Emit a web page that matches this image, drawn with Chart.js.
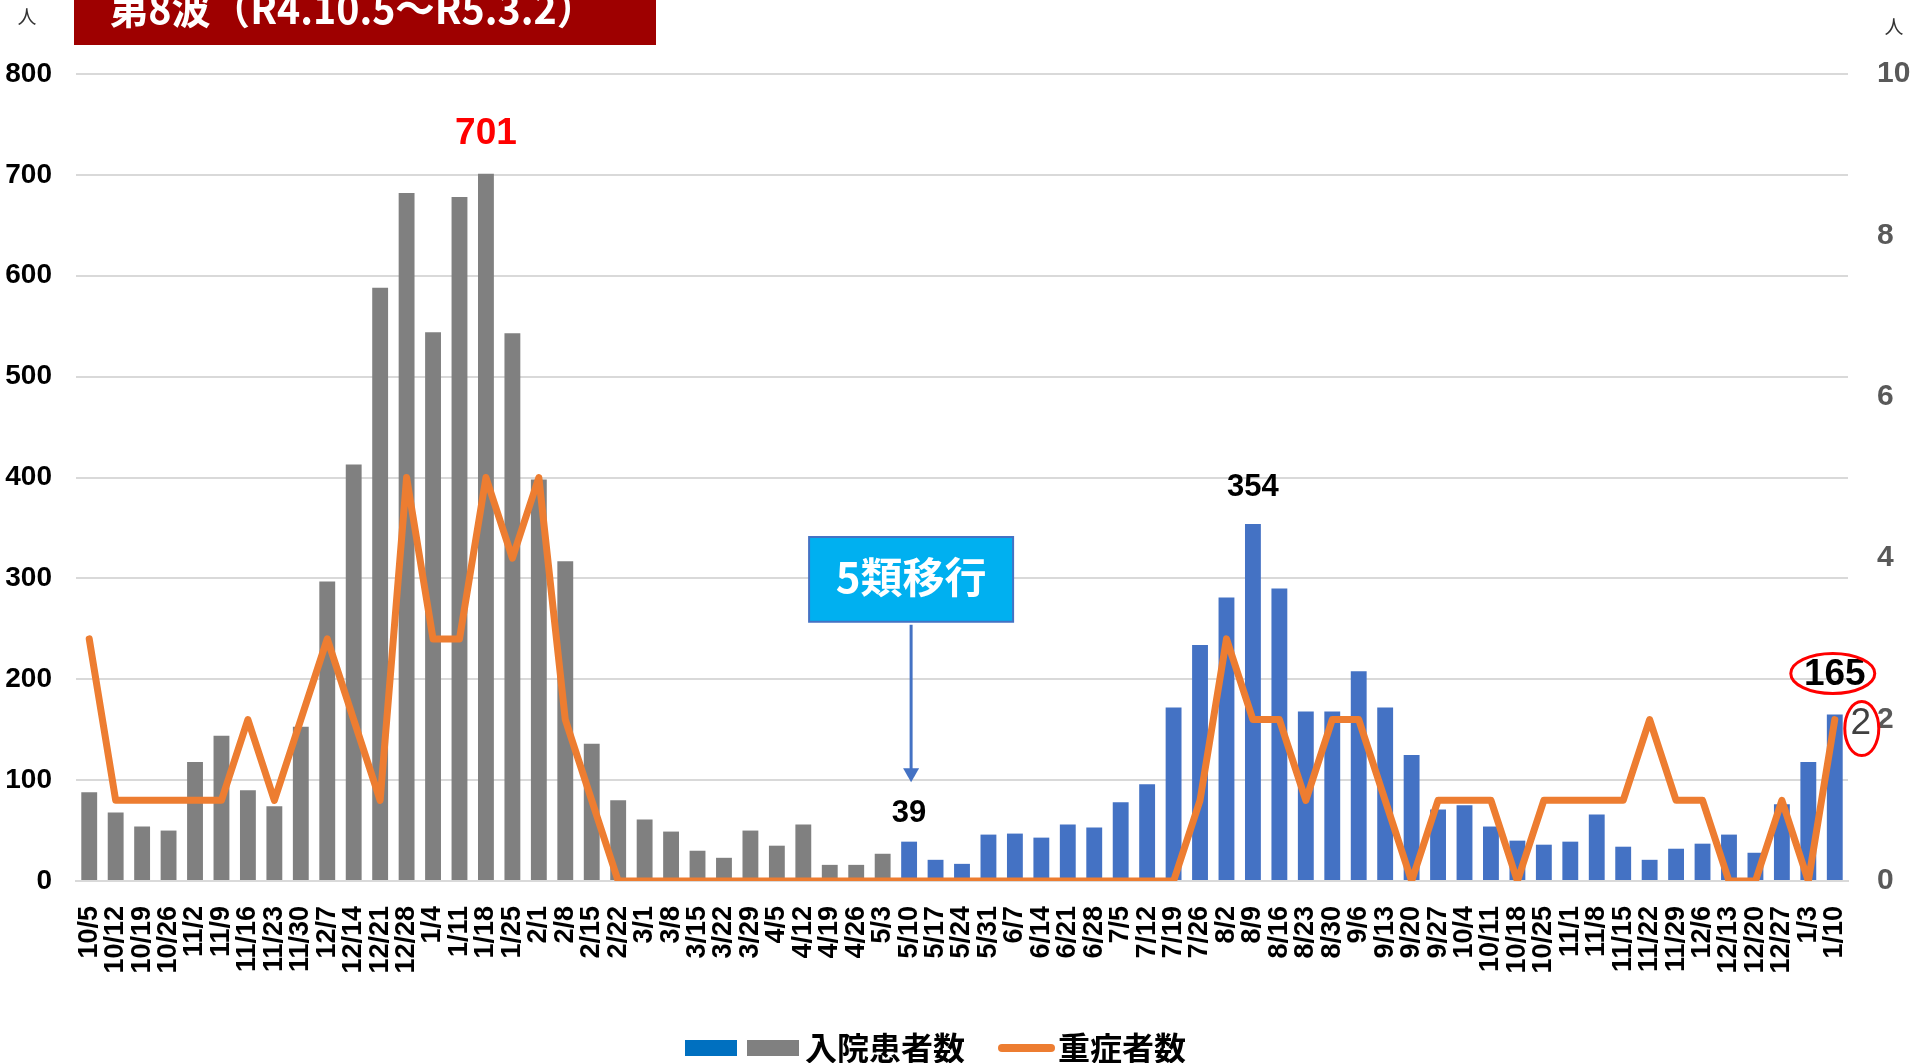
<!DOCTYPE html>
<html>
<head>
<meta charset="utf-8">
<script src="https://cdn.jsdelivr.net/npm/chart.js@4.4.1/dist/chart.umd.min.js"></script>
<style>
  html, body { margin: 0; padding: 0; background: #ffffff; }
  #wrap { position: relative; width: 1915px; height: 1063px; }
  canvas { display: block; }
</style>
</head>
<body>
<div id="wrap"><canvas id="c" width="1915" height="1063"></canvas></div>
<script>
// ---- data ----
const categories = ['10/5','10/12','10/19','10/26','11/2','11/9','11/16','11/23','11/30','12/7','12/14','12/21','12/28','1/4','1/11','1/18','1/25','2/1','2/8','2/15','2/22','3/1','3/8','3/15','3/22','3/29','4/5','4/12','4/19','4/26','5/3','5/10','5/17','5/24','5/31','6/7','6/14','6/21','6/28','7/5','7/12','7/19','7/26','8/2','8/9','8/16','8/23','8/30','9/6','9/13','9/20','9/27','10/4','10/11','10/18','10/25','11/1','11/8','11/15','11/22','11/29','12/6','12/13','12/20','12/27','1/3','1/10'];
const inpatients = [88,68,54,50,118,144,90,74,153,297,413,588,682,544,678,701,543,398,317,136,80,61,49,30,23,50,35,56,16,16,27,39,21,17,46,47,43,56,53,78,96,172,234,281,354,290,168,168,208,172,125,71,75,54,40,36,39,66,34,21,32,37,46,28,76,118,165];
const severe = [3,1,1,1,1,1,2,1,2,3,2,1,5,3,3,5,4,5,2,1,0,0,0,0,0,0,0,0,0,0,0,0,0,0,0,0,0,0,0,0,0,0,1,3,2,2,1,2,2,1,0,1,1,1,0,1,1,1,1,2,1,1,0,0,1,0,2];
const leftTicks = [0,100,200,300,400,500,600,700,800];
const rightTicks = [0,2,4,6,8,10];
const titleText = '第8波（R4.10.5～R5.3.2）';
const seriesNames = ['入院患者数','重症者数'];
const transitionLabel = '5類移行';
const transitionCategory = '5/10';
const unitLabel = '人';
const peakCategories = ['1/18','8/9','5/10','1/10'];

// ---- styles ----
const GRAY = '#808080', BLUE = '#4472C4', ORANGE = '#ED7D31';
const firstBlue = categories.indexOf(transitionCategory);
const barColors = inpatients.map((v, i) => i >= firstBlue ? BLUE : GRAY);
const LAT = '"Liberation Sans", Arial, sans-serif';
const JP = '"Noto Sans CJK JP", "Noto Sans", sans-serif';

const overlay = {
  id: 'overlay',
  afterDraw(chart) {
    const ctx = chart.ctx;
    const xs = chart.scales.x, ys = chart.scales.y, y1 = chart.scales.y1;
    ctx.save();

    // title box
    ctx.fillStyle = '#9E0000';
    ctx.fillRect(74, 0, 582, 45);
    ctx.fillStyle = '#ffffff';
    ctx.font = 'bold 42px ' + JP;
    ctx.textBaseline = 'alphabetic';
    ctx.textAlign = 'left';
    const tw = ctx.measureText(titleText).width;
    ctx.save();
    ctx.translate(109, 24);
    ctx.scale(487 / tw, 1);
    ctx.fillText(titleText, 0, 0);
    ctx.restore();

    // unit labels
    ctx.fillStyle = '#333333';
    ctx.font = '19px ' + JP;
    ctx.textAlign = 'center';
    ctx.textBaseline = 'middle';
    ctx.fillText(unitLabel, 27, 17);
    ctx.fillText(unitLabel, 1894, 27);

    // data labels
    const lbl = (cat, text, font, color, off) => {
      const i = categories.indexOf(cat);
      const x = xs.getPixelForValue(i);
      const y = ys.getPixelForValue(inpatients[i]) - off;
      ctx.font = font; ctx.fillStyle = color;
      ctx.textAlign = 'center'; ctx.textBaseline = 'middle';
      ctx.fillText(text, x, y);
      return {x, y};
    };
    const iPeak = categories.indexOf(peakCategories[0]);
    lbl(peakCategories[0], String(inpatients[iPeak]), 'bold 37px ' + LAT, '#FF0000', 40);
    const i2 = categories.indexOf(peakCategories[1]);
    lbl(peakCategories[1], String(inpatients[i2]), 'bold 31px ' + LAT, '#000000', 36);
    const i3 = categories.indexOf(peakCategories[2]);
    lbl(peakCategories[2], String(inpatients[i3]), 'bold 31px ' + LAT, '#000000', 28);
    const i4 = categories.indexOf(peakCategories[3]);
    const p = lbl(peakCategories[3], String(inpatients[i4]), 'bold 37px ' + LAT, '#000000', 40);
    ctx.strokeStyle = '#FF0000'; ctx.lineWidth = 3;
    ctx.beginPath(); ctx.ellipse(p.x - 2, p.y - 1, 42, 20, 0, 0, Math.PI * 2); ctx.stroke();

    // last severe label
    const last = severe.length - 1;
    const sx = xs.getPixelForValue(last) + 26;
    const sy = y1.getPixelForValue(severe[last]) + 4;
    ctx.font = '37px ' + LAT; ctx.fillStyle = '#404040';
    ctx.fillText(String(severe[last]), sx, sy);
    ctx.beginPath(); ctx.ellipse(sx + 1, sy + 5, 17, 27, 0, 0, Math.PI * 2); ctx.stroke();

    // transition box + arrow
    const tx = xs.getPixelForValue(firstBlue) + 2;
    const bTop = ys.getPixelForValue(341), bBot = ys.getPixelForValue(257);
    ctx.fillStyle = '#00B0F0';
    ctx.fillRect(tx - 102, bTop, 204, bBot - bTop);
    ctx.strokeStyle = '#4472C4'; ctx.lineWidth = 2;
    ctx.strokeRect(tx - 102, bTop, 204, bBot - bTop);
    ctx.fillStyle = '#ffffff';
    ctx.font = 'bold 42px ' + JP;
    ctx.fillText(transitionLabel, tx, (bTop + bBot) / 2 - 2);
    const aTop = ys.getPixelForValue(254), aTip = ys.getPixelForValue(98);
    ctx.strokeStyle = '#4472C4'; ctx.lineWidth = 3;
    ctx.beginPath(); ctx.moveTo(tx, aTop); ctx.lineTo(tx, aTip - 12); ctx.stroke();
    ctx.fillStyle = '#4472C4';
    ctx.beginPath(); ctx.moveTo(tx - 8, aTip - 14); ctx.lineTo(tx + 8, aTip - 14); ctx.lineTo(tx, aTip); ctx.closePath(); ctx.fill();

    // legend
    ctx.fillStyle = '#0070C0'; ctx.fillRect(685, 1040, 52, 16);
    ctx.fillStyle = GRAY; ctx.fillRect(747, 1040, 52, 16);
    ctx.fillStyle = '#000000';
    ctx.font = 'bold 32px ' + JP;
    ctx.textAlign = 'left'; ctx.textBaseline = 'middle';
    ctx.fillText(seriesNames[0], 805, 1048);
    ctx.strokeStyle = ORANGE; ctx.lineWidth = 8; ctx.lineCap = 'round';
    ctx.beginPath(); ctx.moveTo(1002, 1048); ctx.lineTo(1051, 1048); ctx.stroke();
    ctx.fillText(seriesNames[1], 1058, 1048);

    ctx.restore();
  }
};

new Chart(document.getElementById('c'), {
  data: {
    labels: categories,
    datasets: [
      { type: 'line', label: seriesNames[1], data: severe, yAxisID: 'y1', borderColor: ORANGE, backgroundColor: ORANGE,
        borderWidth: 7, pointRadius: 0, tension: 0, borderJoinStyle: 'round', borderCapStyle: 'round', order: 0 },
      { type: 'bar', label: seriesNames[0], data: inpatients, yAxisID: 'y', backgroundColor: barColors,
        barPercentage: 0.6, categoryPercentage: 1.0, order: 1 }
    ]
  },
  options: {
    responsive: false,
    animation: false,
    devicePixelRatio: 1,
    layout: { padding: { top: 74, left: 0, right: 0, bottom: 0 } },
    plugins: { legend: { display: false }, tooltip: { enabled: false } },
    scales: {
      x: {
        grid: { display: false },
        border: { display: true, color: '#D9D9D9', width: 2 },
        ticks: { autoSkip: false, maxRotation: 90, minRotation: 90, padding: 17, color: '#000000',
                 font: { family: LAT, size: 27, weight: 'bold' } },
        afterFit: s => { s.height = 182; }
      },
      y: {
        position: 'left', min: 0, max: 800,
        afterBuildTicks: s => { s.ticks = leftTicks.map(v => ({ value: v })); },
        grid: { color: '#D9D9D9', lineWidth: 2, drawTicks: false },
        border: { display: false },
        ticks: { padding: 24, color: '#000000', font: { family: LAT, size: 28, weight: 'bold' } },
        afterFit: s => { s.width = 76; }
      },
      y1: {
        position: 'right', min: 0, max: 10,
        afterBuildTicks: s => { s.ticks = rightTicks.map(v => ({ value: v })); },
        grid: { display: false, drawTicks: false },
        border: { display: false },
        ticks: { padding: 29, color: '#595959', font: { family: LAT, size: 30, weight: 'bold' } },
        afterFit: s => { s.width = 67; }
      }
    }
  },
  plugins: [overlay]
});
</script>
</body>
</html>
